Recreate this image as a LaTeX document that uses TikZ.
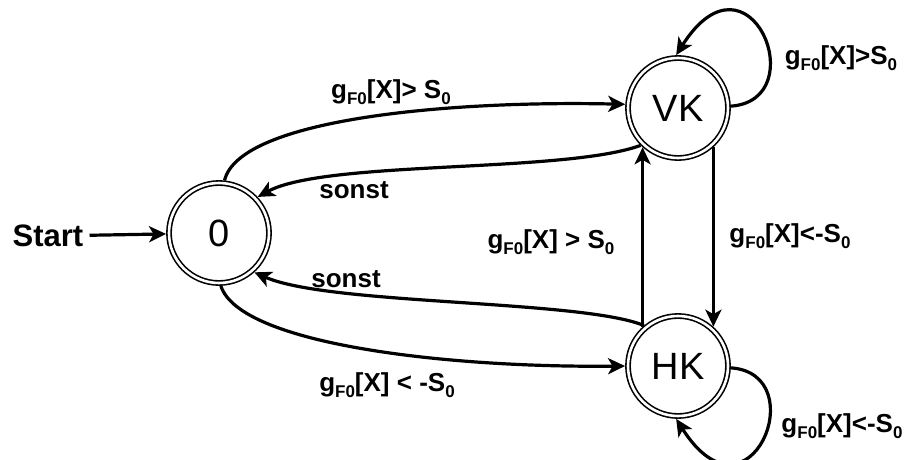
\documentclass[tikz,border=0pt]{standalone}
\usepackage{fontspec}
\setmainfont{Liberation Sans}
\usetikzlibrary{arrows.meta}

% lowered, smaller index text
\newcommand{\lowsub}[1]{\raisebox{-0.45ex}{\fontsize{17}{17}\selectfont #1}}

\tikzset{
  state/.style={circle, draw, line width=1.6pt, double, double distance=2.6pt,
    minimum size=100pt, inner sep=0pt, outer sep=2.9pt,
    font=\fontsize{38}{38}\selectfont},
  edge/.style={line width=3.2pt,
    -{Stealth[length=17pt,width=16pt,inset=4.5pt]}},
  lbl/.style={font=\fontsize{26}{26}\selectfont\bfseries, inner sep=1pt},
}

\begin{document}
\begin{tikzpicture}[x=1pt,y=-1pt]
\useasboundingbox (0,0) rectangle (911,460);

% states
\node[state] (z)  at (219,233) {0};
\node[state] (vk) at (678,108) {VK};
\node[state] (hk) at (678,366) {HK};
\node[font=\fontsize{31}{31}\selectfont\bfseries, inner sep=6pt] (start) at (48,236) {Start};

% transitions
\draw[edge] (start) -- (z);
\draw[edge] (z.84) .. controls +(15,-62) and +(-173,-4) .. (vk.176);
\draw[edge] (vk.-135) .. controls +(-77,28) and +(68,-37) .. (z.43);
\draw[edge] (hk.130) .. controls +(-64,-26) and +(74,33) .. (z.-48);
\draw[edge] (z.-88) .. controls +(19,59) and +(-175,2) .. (hk.180);
\draw[edge] (hk.132) -- (vk.-132);
\draw[edge] (vk.-48) -- (hk.48);
\draw[edge] (vk.2) .. controls +(84,-6) and +(73,-115) .. (vk.92);
\draw[edge] (hk.-2) .. controls +(84,6) and +(73,115) .. (hk.-92);

% labels
\node[lbl] (l1) at (391,92)  {g\lowsub{F0}[X]> S\lowsub{0}};
\node[lbl] (l2) at (354,190) {sonst};
\node[lbl] (l3) at (346,279) {sonst};
\node[lbl] (l4) at (387,385) {g\lowsub{F0}[X] < -S\lowsub{0}};
\node[lbl] (l5) at (551,242) {g\lowsub{F0}[X] > S\lowsub{0}};
\node[lbl] (l6) at (790,236) {g\lowsub{F0}[X]<-S\lowsub{0}};
\node[lbl] (l7) at (841,58)  {g\lowsub{F0}[X]>S\lowsub{0}};
\node[lbl] (l8) at (842,426) {g\lowsub{F0}[X]<-S\lowsub{0}};
\end{tikzpicture}
\end{document}
